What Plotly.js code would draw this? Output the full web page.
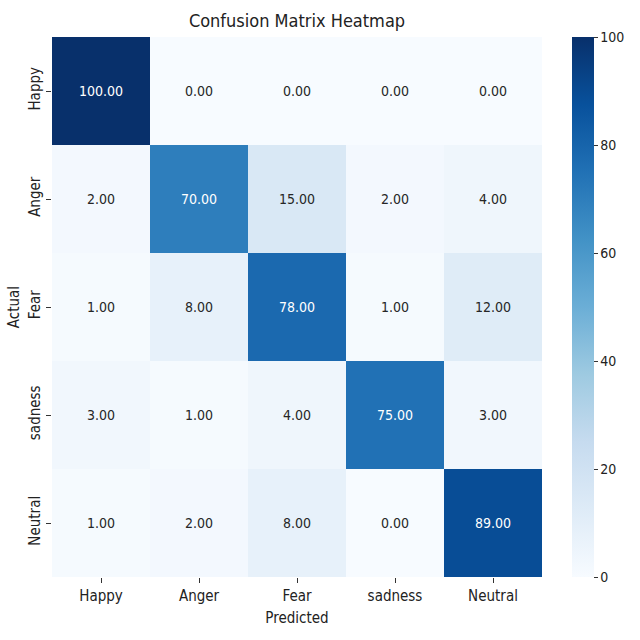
<!DOCTYPE html>
<html>
<head>
<meta charset="utf-8">
<script src="https://cdn.plot.ly/plotly-3.0.1.min.js"></script>
<style>body{margin:0;padding:0;background:#fff}</style>
</head>
<body>
<div id="plot" style="width:640px;height:640px"></div>
<script>
var labels = ['Happy', 'Anger', 'Fear', 'sadness', 'Neutral'];

var happyRow   = [100, 0, 0, 0, 0];
var angerRow   = [2, 70, 15, 2, 4];
var fearRow    = [1, 8, 78, 1, 12];
var sadnessRow = [3, 1, 4, 75, 3];
var neutralRow = [1, 2, 8, 0, 89];

var z = [happyRow, angerRow, fearRow, sadnessRow, neutralRow];

// matplotlib Blues
var blues = [
  [0, '#f7fbff'], [0.125, '#deebf7'], [0.25, '#c6dbef'], [0.375, '#9ecae1'],
  [0.5, '#6baed6'], [0.625, '#4292c6'], [0.75, '#2171b5'], [0.875, '#08519c'], [1, '#08306b']
];

var font = 'DejaVu Sans Condensed, DejaVu Sans, sans-serif';

var annotations = [];
z.forEach(function (row, i) {
  row.forEach(function (v, j) {
    annotations.push({
      x: labels[j], y: labels[i], text: v.toFixed(2), showarrow: false,
      font: {family: font, size: 14, color: v > 50 ? '#ffffff' : '#262626'}
    });
  });
});

var trace = {
  type: 'heatmap',
  x: labels,
  y: labels,
  z: z,
  zmin: 0,
  zmax: 100,
  colorscale: blues,
  hoverinfo: 'z',
  colorbar: {
    x: 1.061, xanchor: 'left', thickness: 22, len: 1, y: 0.5, yanchor: 'middle',
    ypad: 0, xpad: 0,
    outlinewidth: 0, ticks: 'outside', ticklen: 4, tickcolor: '#333',
    tickvals: [0, 20, 40, 60, 80, 100],
    tickfont: {family: font, size: 14, color: '#222'}
  }
};

var layout = {
  width: 640, height: 640,
  margin: {l: 52, r: 98, t: 37, b: 63, autoexpand: false},
  paper_bgcolor: '#fff', plot_bgcolor: '#fff',
  title: {text: 'Confusion Matrix Heatmap', font: {family: font, size: 18, color: '#222'}, xref: 'paper', x: 0.5, xanchor: 'center', y: 0.968, yanchor: 'middle'},
  xaxis: {
    type: 'category', showgrid: false, zeroline: false,
    ticks: 'outside', ticklen: 5, tickcolor: '#333',
    tickfont: {family: font, size: 15, color: '#222'},
    title: {text: 'Predicted', font: {family: font, size: 15, color: '#222'}, standoff: 8}
  },
  yaxis: {
    type: 'category', autorange: 'reversed', showgrid: false, zeroline: false,
    ticks: 'outside', ticklen: 5, tickcolor: '#333', tickangle: -90,
    tickfont: {family: font, size: 15, color: '#222'},
    title: {text: 'Actual', font: {family: font, size: 15, color: '#222'}, standoff: 2}
  },
  annotations: annotations
};

Plotly.newPlot('plot', [trace], layout, {displayModeBar: false});
</script>
</body>
</html>
